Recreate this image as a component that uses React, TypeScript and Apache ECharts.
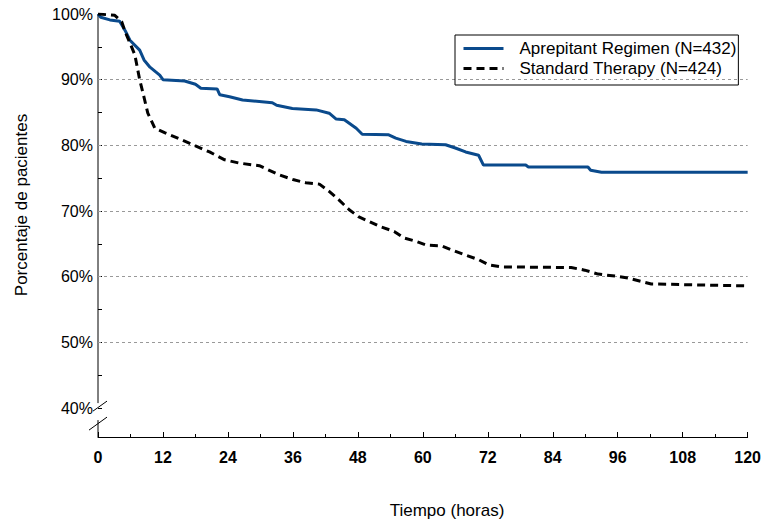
import React, { useEffect, useRef } from "react";
import * as echarts from "echarts";

const seriesNames = ["Aprepitant Regimen (N=432)", "Standard Therapy (N=424)"];

const aprepitant: [number, number][] = [
  [0, 100], [0.5, 99.5], [2.2, 99.1], [4, 98.9], [5, 97.5], [5.9, 96], [7.7, 94.5],
  [8.5, 93], [9.6, 91.9], [11.4, 90.7], [12, 90], [16, 89.8], [18, 89.3], [19, 88.7],
  [22, 88.6], [22.5, 87.7], [24.3, 87.4], [26.7, 86.9], [32.2, 86.5], [33, 86.1],
  [35.9, 85.6], [40.3, 85.4], [42.7, 84.9], [44, 84.0], [45.5, 83.9], [47.7, 82.6],
  [48.8, 81.7], [53.7, 81.6], [55, 81.1], [56.9, 80.6], [59.8, 80.2], [64.2, 80.1],
  [66, 79.6], [67.9, 79.0], [70.3, 78.5], [71.2, 77.0], [79, 77.0], [79.5, 76.7],
  [90.5, 76.7], [91, 76.2], [93, 75.9], [120, 75.9],
];

const standard: [number, number][] = [
  [0, 100], [3.1, 99.8], [4.4, 98.8], [5, 97.3], [5.9, 95.6], [6.8, 93.8], [7.7, 90],
  [8.3, 88], [9.2, 84.9], [10, 83.5], [10.5, 82.6], [12.4, 81.9], [15, 81], [17.8, 80],
  [20.6, 79], [23.4, 77.8], [26.1, 77.3], [29.8, 76.9], [33.5, 75.5], [36, 74.8],
  [38.4, 74.3], [40.9, 74.1], [42.7, 73.0], [44.5, 71.7], [46.4, 70.2], [48.2, 69.1],
  [50.1, 68.4], [52.2, 67.6], [54.7, 66.9], [56.5, 65.9], [58.7, 65.4], [60.7, 64.8],
  [63.5, 64.7], [65.3, 64.1], [67.9, 63.3], [70.3, 62.6], [72.2, 61.8], [74.6, 61.5],
  [87.4, 61.4], [89.9, 61.0], [92.4, 60.4], [95.5, 60.1], [97.9, 59.8], [100.3, 59.3],
  [102.2, 58.9], [120, 58.6],
];

const xMin = 0;
const xMax = 120;
const xInterval = 12;
const yMin = 35.6;
const yMax = 100;
const yLabelValues = [40, 50, 60, 70, 80, 90, 100];
const yTickValues = [40, 45, 50, 55, 60, 65, 70, 75, 80, 85, 90, 95, 100];
const gridValues = [50, 60, 70, 80, 90];

const FONT = "'Liberation Sans', Arial, sans-serif";

const W = 764;
const H = 523;
const G = { left: 98, right: 14, top: 14, bottom: 86 };

export default function App() {
  const ref = useRef<HTMLDivElement>(null);
  useEffect(() => {
    if (!ref.current) return;
    const chart = echarts.init(ref.current, undefined, { renderer: "svg" });
    const plotH = H - G.top - G.bottom;
    const yAt = (v: number) => G.top + ((yMax - v) / (yMax - yMin)) * plotH;
    const axX = G.left;
    const bottomY = H - G.bottom;
    const breakTop = yAt(40) - 5;
    const breakBot = yAt(40) + 12;

    chart.setOption({
      animation: false,
      backgroundColor: "#ffffff",
      grid: { left: G.left, right: G.right, top: G.top, bottom: G.bottom, containLabel: false },
      legend: {
        orient: "vertical",
        left: 455,
        top: 35,
        padding: [5, 2, 8, 7],
        itemWidth: 40,
        itemHeight: 14,
        itemGap: 3,
        borderColor: "#000",
        borderWidth: 1,
        borderRadius: 0,
        itemStyle: { opacity: 0, borderWidth: 0 },
        lineStyle: { width: 3 },
        textStyle: { fontFamily: FONT, fontSize: 17, color: "#000", lineHeight: 14, padding: [0, 0, 0, 11] },
        data: seriesNames,
      },
      xAxis: {
        type: "value",
        min: xMin,
        max: xMax,
        interval: xInterval,
        axisLine: { show: true, lineStyle: { color: "#000", width: 1 } },
        axisTick: { show: true, inside: true, length: 5, lineStyle: { color: "#000" } },
        minorTick: { show: true, splitNumber: 2, length: 3, lineStyle: { color: "#000" } },
        axisLabel: { fontFamily: FONT, fontSize: 16, fontWeight: "bold", color: "#000", margin: 12 },
        splitLine: { show: false },
      },
      yAxis: {
        type: "value",
        min: yMin,
        max: yMax,
        axisLine: { show: false },
        axisTick: {
          show: true,
          inside: true,
          length: 4,
          customValues: yTickValues,
          lineStyle: { color: "#000" },
        },
        axisLabel: {
          customValues: yLabelValues,
          formatter: "{value}%",
          fontFamily: FONT,
          fontSize: 16,
          color: "#000",
          margin: 5,
        },
        splitLine: { show: false },
      },
      series: [
        {
          name: seriesNames[0],
          type: "line",
          data: aprepitant,
          symbol: "none",
          lineStyle: { color: "#0a4a8c", width: 3 },
          itemStyle: { color: "#0a4a8c" },
          z: 3,
          markLine: {
            silent: true,
            symbol: "none",
            label: { show: false },
            lineStyle: { color: "#999", width: 1, type: [3, 3] },
            data: gridValues.map((v) => ({ yAxis: v })),
            z: 1,
          },
        },
        {
          name: seriesNames[1],
          type: "line",
          data: standard,
          symbol: "none",
          lineStyle: { color: "#000", width: 3, type: [8, 5] },
          itemStyle: { color: "#000" },
          z: 4,
        },
      ],
      graphic: [
        { type: "line", shape: { x1: axX, y1: G.top, x2: axX, y2: breakTop }, style: { stroke: "#000", lineWidth: 1 } },
        { type: "line", shape: { x1: axX, y1: breakBot, x2: axX, y2: bottomY }, style: { stroke: "#000", lineWidth: 1 } },
        { type: "line", shape: { x1: axX - 5, y1: breakTop + 8, x2: axX + 9, y2: breakTop - 2 }, style: { stroke: "#000", lineWidth: 1 } },
        { type: "line", shape: { x1: axX - 9, y1: breakBot + 10, x2: axX + 9, y2: breakBot - 3 }, style: { stroke: "#000", lineWidth: 1 } },
        {
          type: "text",
          x: 447,
          y: 510,
          style: { text: "Tiempo (horas)", fontFamily: FONT, fontSize: 17, fill: "#000", textAlign: "center", textVerticalAlign: "middle" },
        },
        {
          type: "text",
          x: 21,
          y: 205,
          rotation: Math.PI / 2,
          style: { text: "Porcentaje de pacientes", fontFamily: FONT, fontSize: 17, fill: "#000", textAlign: "center", textVerticalAlign: "middle" },
        },
      ],
    });
    return () => chart.dispose();
  }, []);
  return <div ref={ref} style={{ position: "fixed", left: 0, top: 0, width: W, height: H }} />;
}
